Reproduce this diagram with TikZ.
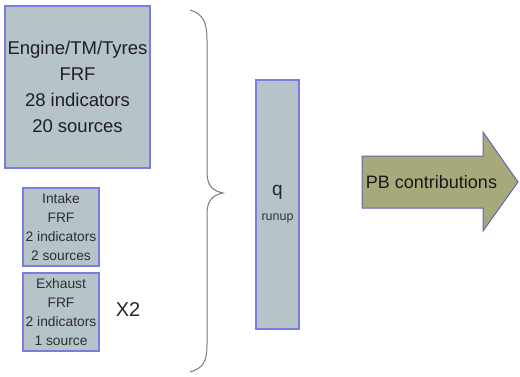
\documentclass[tikz,border=0pt]{standalone}
\usepackage{fontspec}
\setmainfont{Liberation Sans}
\begin{document}
\begin{tikzpicture}[x=1pt,y=-1pt,
  box/.style={draw=boxline,fill=boxfill,line width=1.2pt,inner sep=0pt},
  bigtxt/.style={font=\fontsize{18.5}{26}\selectfont,align=center,text=black!88},
  smalltxt/.style={font=\fontsize{13.8}{19}\selectfont,align=center,text=black!82}]
\definecolor{boxfill}{HTML}{B6C3C9}
\definecolor{boxline}{HTML}{7C7CE0}
\definecolor{arrowfill}{HTML}{A7A97A}
\definecolor{arrowline}{HTML}{6464B4}
\definecolor{bracecol}{HTML}{7A7A7A}
\useasboundingbox (0,0) rectangle (520,376);

% input blocks
\node[box,minimum width=145pt,minimum height=162pt] (engine) at (77.5,87) {};
\node[bigtxt] (enginetxt) at (engine.center) {Engine/TM/Tyres\\FRF\\28 indicators\\20 sources};

\node[box,minimum width=76pt,minimum height=78pt] (intake) at (61,227) {};
\node[smalltxt] (intaketxt) at (intake.center) {Intake\\FRF\\2 indicators\\2 sources};

\node[box,minimum width=76pt,minimum height=78pt] (exhaust) at (61,312) {};
\node[smalltxt] (exhausttxt) at (exhaust.center) {Exhaust\\FRF\\2 indicators\\1 source};

\node[font=\fontsize{20}{22}\selectfont,text=black!85] (x2) at (128,310) {X2};

% curly brace gathering the inputs
\coordinate (btop) at (190,10);
\coordinate (btip) at (223,193);
\coordinate (bbot) at (190,372);
\draw[bracecol,line width=1pt]
  (btop) .. controls (203,14) and (207,22) .. (207,40)
  -- (207,172) .. controls (207,186) and (213,191) .. (btip)
  .. controls (213,195) and (207,200) .. (207,214)
  -- (207,345) .. controls (207,362) and (203,368) .. (bbot);

% runup block
\node[box,minimum width=43pt,minimum height=249pt] (q) at (277.5,204.5) {};
\node[font=\fontsize{19}{20}\selectfont,text=black!85] (qtxt) at (277.5,192) {q};
\node[font=\fontsize{12.5}{14}\selectfont,text=black!80] (runup) at (277.5,218) {runup};

% output arrow
\draw[draw=arrowline,fill=arrowfill,line width=1pt,line join=miter]
  (362,156) -- (483,156) -- (483,132) -- (518,182) -- (483,231)
  -- (483,208) -- (362,208) -- cycle;
\node[font=\fontsize{18}{20}\selectfont,text=black!90] (pb) at (431.5,182) {PB contributions};
\end{tikzpicture}
\end{document}
